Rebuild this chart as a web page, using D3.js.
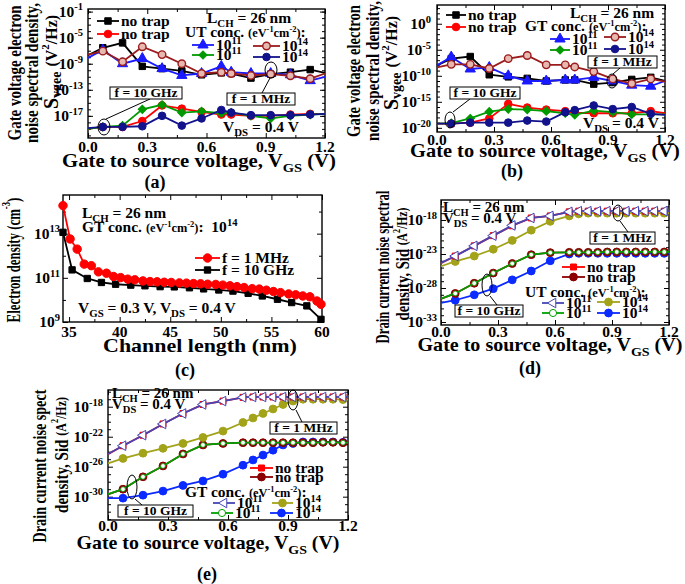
<!DOCTYPE html>
<html>
<head>
<meta charset="utf-8">
<script src="https://cdn.jsdelivr.net/npm/d3@7"></script>
<style>
body { margin: 0; background: #fff; }
svg text { font-family: "Liberation Serif", "Times New Roman", serif; font-weight: bold; fill: #000; white-space: pre; }
</style>
</head>
<body>
<div id="chart"></div>
<script>
// gate voltage sweeps (V)
var vgsTrap = [0, 0.075, 0.175, 0.275, 0.375, 0.475, 0.575, 0.675, 0.725, 0.825, 0.925, 1.025, 1.125, 1.2];
var vgsId = [0, 0.075, 0.175, 0.275, 0.375, 0.475, 0.575, 0.675, 0.725, 0.775, 0.825, 0.875, 0.925, 0.975, 1.025, 1.075, 1.125, 1.175, 1.2];

// (a) Svgee, log10(V^2/Hz), uniform traps
var aNoTrap1M = [-7.7, -6.55, -5.8, -9.4, -9.75, -10.1, -10.7, -10.4, -10.5, -11.2, -10.6, -10.3, -9.9, -10.4];
var aUT11_1M = [-8.1, -6.9, -9.0, -8.2, -9.75, -10.8, -10.5, -9.4, -10.3, -10.5, -10.5, -10.7, -11.6, -11.0];
var aUT14_1M = [-7.6, -7.07, -8.7, -6.4, -7.6, -9.0, -10.5, -10.3, -10.5, -10.8, -10.6, -10.85, -11.3, -10.5];
var aNoTrap10G = [-19.0, -18.7, -18.7, -17.8, -15.4, -15.9, -16.4, -16.8, -16.8, -17.0, -17.0, -16.8, -16.7, -16.7];
var aUT11_10G = [-19.0, -18.7, -18.5, -16.0, -15.3, -16.5, -16.3, -16.6, -16.5, -17.0, -17.4, -17.0, -16.8, -16.7];
var aUT14_10G = [-18.9, -18.7, -18.7, -18.6, -17.0, -18.5, -17.4, -16.1, -16.5, -16.9, -16.9, -16.9, -16.8, -16.7];

// (b) Svgee, log10(V^2/Hz), gaussian traps
var bNoTrap1M = [-8.0, -6.7, -6.3, -9.8, -10.2, -10.5, -11.0, -10.8, -10.8, -11.6, -11.3, -10.7, -10.3, -11.0];
var bGT11_1M = [-8.0, -6.4, -8.7, -8.4, -10.0, -11.0, -11.0, -10.8, -10.8, -10.3, -11.0, -11.8, -12.0, -11.0];
var bGT14_1M = [-8.4, -7.8, -7.8, -8.6, -6.7, -6.1, -7.9, -7.9, -8.3, -9.2, -10.6, -11.5, -10.6, -11.1];
var bNoTrap10G = [-19.2, -19.2, -19.0, -18.2, -15.4, -16.1, -16.5, -16.8, -17.1, -17.2, -17.2, -17.2, -16.8, -17.2];
var bGT11_10G = [-19.2, -19.1, -18.2, -16.9, -16.4, -16.5, -16.8, -17.2, -17.5, -16.7, -17.0, -17.4, -17.4, -17.4];
var bGT14_10G = [-19.2, -19.2, -19.0, -19.0, -19.0, -18.6, -18.8, -17.0, -16.6, -15.7, -16.4, -16.0, -17.3, -17.5];

// (c) electron density, log10(cm^-3) along the channel (nm)
var cLen10G = [34.4, 35.3, 36.8, 38.2, 39.6, 41.1, 42.5, 44.0, 45.4, 46.9, 48.3, 49.8, 51.2, 52.7, 54.1, 55.6, 57.0, 58.5, 59.9];
var cDen10G = [13.06, 11.36, 10.97, 10.79, 10.71, 10.67, 10.64, 10.60, 10.59, 10.55, 10.50, 10.45, 10.40, 10.30, 10.18, 10.03, 9.88, 9.73, 9.12];
var cLen1M = [34.4, 35.1, 35.8, 36.5, 37.2, 37.9, 38.7, 39.4, 40.1, 40.8, 41.5, 42.3, 43.0, 43.7, 44.4, 45.1, 45.9, 46.6, 47.3, 48.0, 48.7, 49.5, 50.2, 50.9, 51.6, 52.3, 53.1, 53.8, 54.5, 55.2, 55.9, 56.7, 57.4, 58.1, 58.8, 59.5, 59.9];
var cDen1M = [14.27, 12.76, 12.3, 11.62, 11.55, 11.27, 11.21, 11.06, 11.01, 10.94, 10.91, 10.86, 10.83, 10.82, 10.8, 10.79, 10.77, 10.76, 10.74, 10.73, 10.71, 10.7, 10.67, 10.64, 10.6, 10.56, 10.51, 10.49, 10.44, 10.38, 10.33, 10.27, 10.23, 10.18, 10.14, 9.95, 9.8];

// (d) Sid, log10(A^2/Hz), uniform traps
var dNoTrap1M = [-24.35, -23.3, -21.8, -20.3, -18.85, -17.7, -17.4, -16.8, -16.7, -16.7, -16.7, -16.7, -16.7, -16.7, -16.7, -16.7, -16.7, -16.7, -16.7];
var dUT11_1M = [-24.3, -23.3, -21.8, -20.3, -18.8, -17.7, -17.4, -16.8, -16.7, -16.7, -16.7, -16.7, -16.7, -16.7, -16.7, -16.7, -16.7, -16.7, -16.7];
var dUT14_1M = [-24.8, -24.1, -23.3, -22.3, -21.0, -19.5, -18.2, -17.4, -17.1, -17.0, -17.0, -17.0, -17.0, -17.0, -17.0, -17.0, -17.0, -17.0, -17.0];
var dNoTrap10G = [-29.6, -28.8, -27.3, -25.8, -24.4, -23.1, -22.8, -22.75, -22.75, -22.75, -22.75, -22.7, -22.7, -22.7, -22.7, -22.7, -22.7, -22.7, -22.7];
var dUT11_10G = [-29.55, -28.8, -27.3, -25.8, -24.4, -23.1, -22.8, -22.75, -22.75, -22.75, -22.75, -22.7, -22.7, -22.7, -22.7, -22.7, -22.7, -22.7, -22.7];
var dUT14_10G = [-30.2, -29.8, -29.0, -28.1, -26.8, -25.5, -24.0, -23.0, -22.9, -22.9, -22.9, -22.9, -22.9, -22.9, -22.9, -22.9, -22.9, -22.9, -22.9];

// (e) Sid, log10(A^2/Hz), gaussian traps
var eNoTrap1M = [-24.35, -23.2, -21.8, -20.3, -18.9, -17.7, -17.25, -16.75, -16.7, -16.7, -16.7, -16.7, -16.7, -16.7, -16.7, -16.7, -16.7, -16.7, -16.7];
var eGT11_1M = [-24.3, -23.2, -21.8, -20.3, -18.9, -17.7, -17.25, -16.75, -16.7, -16.7, -16.7, -16.7, -16.7, -16.7, -16.7, -16.7, -16.7, -16.7, -16.7];
var eGT14_1M = [-25.55, -24.9, -24.2, -23.55, -22.9, -22.1, -21.25, -20.1, -19.5, -18.9, -18.3, -17.7, -17.25, -17.0, -17.0, -17.0, -17.0, -17.05, -17.05];
var eNoTrap10G = [-29.7, -29.0, -27.35, -25.9, -24.3, -23.1, -22.9, -22.8, -22.8, -22.8, -22.8, -22.8, -22.8, -22.8, -22.8, -22.75, -22.75, -22.8, -22.8];
var eGT11_10G = [-29.65, -29.0, -27.35, -25.9, -24.3, -23.1, -22.9, -22.8, -22.8, -22.8, -22.8, -22.8, -22.8, -22.8, -22.8, -22.75, -22.75, -22.8, -22.8];
var eGT14_10G = [-30.2, -30.2, -29.8, -29.25, -28.5, -27.9, -27.0, -25.8, -25.1, -24.45, -23.8, -23.1, -22.9, -22.7, -22.7, -22.7, -22.7, -22.75, -22.75];

var svg = d3.select("#chart").append("svg").attr("width", 685).attr("height", 584);
svg.append("rect").attr("width", 685).attr("height", 584).attr("fill", "#fff");

// text with ^{sup}, _{sub} and [0.8] size switches
function rich(t, str, size) {
  var toks = str.split(/(\^\{[^}]*\}|_\{[^}]*\}|\[[0-9.]+\])/).filter(function(s) { return s.length; });
  var base = size, shift = 0;
  toks.forEach(function(tk) {
    var m = tk.match(/^\[([0-9.]+)\]$/);
    if (m) { base = size * +m[1]; return; }
    var txt = tk, fs = base, off = 0;
    if (tk.indexOf("^{") === 0) { txt = tk.slice(2, -1); fs = base * 0.68; off = -base * 0.4; }
    else if (tk.indexOf("_{") === 0) { txt = tk.slice(2, -1); fs = base * 0.7; off = base * 0.25; }
    var ts = t.append("tspan").attr("font-size", fs).text(txt);
    if (off - shift !== 0) ts.attr("dy", off - shift);
    shift = off;
  });
}

function label(g, x, y, str, size, o) {
  o = o || {};
  var t = g.append("text").attr("x", x).attr("y", y).attr("font-size", size)
    .attr("text-anchor", o.anchor || "start");
  if (o.mid) t.attr("dominant-baseline", "central");
  rich(t, str, size);
  // squeeze long titles horizontally to the width seen in the figure
  var sx = 1;
  if (o.len) sx = o.len / t.node().getComputedTextLength();
  var tf = "translate(" + x + "," + y + ")" + (o.rot ? " rotate(-90)" : "") +
    (sx !== 1 ? " scale(" + sx + ",1)" : "") + " translate(" + (-x) + "," + (-y) + ")";
  if (o.rot || sx !== 1) t.attr("transform", tf);
  return t;
}

var symTypes = { square: d3.symbolSquare, circle: d3.symbolCircle, triangle: d3.symbolTriangle };
function symPath(st) { return d3.symbol(symTypes[st.sym], st.size)(); }
function symTf(st, px, py) { return "translate(" + px + "," + py + ")" + (st.rot ? " rotate(" + st.rot + ")" : ""); }

// series styles
var stBlack = { color: "#000", sym: "square", size: 42, fill: "#000" };
var stRed = { color: "#ff0000", sym: "circle", size: 46, fill: "#ff0000" };
var stBlue = { color: "#1a1aff", sym: "triangle", size: 46, fill: "#1a1aff" };
var stBrown = { color: "#9b1c1c", sym: "circle", size: 44, fill: "#e6b8b0", sw: 1.4 };
var stGreen = { color: "#009900", sym: "square", size: 34, fill: "#009900", rot: 45 };
var stNavy = { color: "#12128c", sym: "circle", size: 46, fill: "#12128c" };
var stRedSq = { color: "#ff0000", sym: "square", size: 36, fill: "#ff0000" };
var stDarkRed = { color: "#8b0000", sym: "circle", size: 48, fill: "#8b0000" };
var stTriL = { color: "#4646b4", sym: "triangle", size: 40, fill: "#fff", rot: -90 };
var stOlive = { color: "#a3a31a", sym: "circle", size: 48, fill: "#a3a31a" };
var stGreenO = { color: "#00a000", sym: "circle", size: 18, fill: "#fff", sw: 0.8 };
var stGreenOL = { color: "#00a000", sym: "circle", size: 40, fill: "#fff" };
var stBlueF = { color: "#0a2aff", sym: "circle", size: 48, fill: "#0a2aff" };
var stRedC = { color: "#ff0000", sym: "circle", size: 56, fill: "#ff0000" };
var stBlackC = { color: "#000", sym: "square", size: 40, fill: "#000" };

function range(a, b, s) { return d3.range(a, b + 1e-9, s); }

function drawPanel(p) {
  var g = svg.append("g");
  var x = d3.scaleLinear().domain(p.xDomain).range([p.left, p.right]);
  var y = d3.scaleLog().domain([Math.pow(10, p.yDomain[0]), Math.pow(10, p.yDomain[1])]).range([p.bottom, p.top]);
  var pw = function(e) { return Math.pow(10, e); };

  function ticks(axisFn, scale, vals, size, tx, ty) {
    g.append("g").attr("transform", "translate(" + tx + "," + ty + ")")
      .call(axisFn(scale).tickValues(vals).tickSizeInner(-size).tickSizeOuter(0).tickFormat(""))
      .call(function(s) { s.select(".domain").remove(); })
      .selectAll("line").attr("stroke", "#000").attr("stroke-width", 1);
  }
  var yMaj = p.yTicks.map(pw), yMin = p.yMinor.map(pw);
  ticks(d3.axisBottom, x, p.xTicks, 5, 0, p.bottom);
  ticks(d3.axisBottom, x, p.xMinor, 3, 0, p.bottom);
  ticks(d3.axisTop, x, p.xTicks, 5, 0, p.top);
  ticks(d3.axisTop, x, p.xMinor, 3, 0, p.top);
  ticks(d3.axisLeft, y, yMaj, 5, p.left, 0);
  ticks(d3.axisLeft, y, yMin, 3, p.left, 0);
  ticks(d3.axisRight, y, yMaj, 5, p.right, 0);
  ticks(d3.axisRight, y, yMin, 3, p.right, 0);

  g.append("rect").attr("x", p.left).attr("y", p.top)
    .attr("width", p.right - p.left).attr("height", p.bottom - p.top)
    .attr("fill", "none").attr("stroke", "#000").attr("stroke-width", 1.4);

  g.selectAll(null).data(p.xTicks).join("text")
    .attr("x", function(d) { return x(d); }).attr("y", p.xLabY)
    .attr("text-anchor", "middle").attr("font-size", 15.5)
    .text(function(d) { return d3.format(p.xFmt)(d); });
  p.yTicks.forEach(function(e) {
    label(g, p.left - p.yLabDx, y(pw(e)) + 5, "10^{" + e + "}", 15.5, { anchor: "end" });
  });

  var line = d3.line().x(function(d) { return x(d[0]); }).y(function(d) { return y(pw(d[1])); });
  p.series.forEach(function(s) {
    var pts = s.xs.map(function(v, i) { return [v, s.ys[i]]; });
    g.append("path").datum(pts).attr("d", line).attr("fill", "none")
      .attr("stroke", s.st.color).attr("stroke-width", 1.8);
    var mk = p.skipEnds ? pts.slice(1, -1) : pts;
    g.selectAll(null).data(mk).join("path")
      .attr("d", symPath(s.st))
      .attr("transform", function(d) { return symTf(s.st, x(d[0]), y(pw(d[1]))); })
      .attr("fill", s.st.fill).attr("stroke", s.st.color).attr("stroke-width", s.st.sw || 1);
  });

  p.legend.forEach(function(l) {
    g.append("line").attr("x1", l.x1).attr("x2", l.x2).attr("y1", l.y).attr("y2", l.y)
      .attr("stroke", l.st.color).attr("stroke-width", 1.8);
    g.append("path").attr("d", symPath(l.st)).attr("transform", symTf(l.st, (l.x1 + l.x2) / 2, l.y))
      .attr("fill", l.st.fill).attr("stroke", l.st.color).attr("stroke-width", l.st.sw || 1);
    label(g, l.x2 + 2, l.y + 5, l.text, 15.5);
  });

  (p.notes || []).forEach(function(n) { label(g, n[0], n[1], n[2], n[3] || 15.5); });

  (p.boxes || []).forEach(function(b) {
    g.append("line").attr("x1", b.lx1).attr("y1", b.ly1).attr("x2", b.lx2).attr("y2", b.ly2)
      .attr("stroke", "#000").attr("stroke-width", 1);
    g.append("ellipse").attr("cx", b.ex).attr("cy", b.ey).attr("rx", b.rx).attr("ry", b.ry)
      .attr("fill", "none").attr("stroke", "#000").attr("stroke-width", 1);
    g.append("rect").attr("x", b.x).attr("y", b.y).attr("width", b.w).attr("height", b.h)
      .attr("fill", "#fff").attr("stroke", "#000").attr("stroke-width", 1);
    label(g, b.x + b.w / 2, b.y + b.h - 2.5, b.text, 13.5, { anchor: "middle" });
  });

  p.ytitle.forEach(function(t) {
    label(g, t[0], t[1], t[2], t[3], { rot: true, mid: true, anchor: "middle", len: t[4] });
  });
  label(g, p.xtitle[0], p.xtitle[1], p.xtitle[2], 19, { anchor: "middle", len: p.xtitle[3] });
  label(g, p.tag[0], p.tag[1], p.tag[2], 18, { anchor: "middle" });
}

var decadesAB = range(-20, 3, 1);
var concUT = "UT conc. [0.8](eV^{-1}cm^{-2})[1]:";
var concGT = "GT conc. [0.8](eV^{-1}cm^{-2})[1]:";

drawPanel({
  left: 88, right: 325, top: 9, bottom: 138, xDomain: [0, 1.2], yDomain: [-20.4, -0.6],
  xTicks: [0, 0.3, 0.6, 0.9, 1.2], xMinor: [0.15, 0.45, 0.75, 1.05], xFmt: ".1f", xLabY: 152,
  yTicks: [-1, -5, -9, -13, -17], yMinor: decadesAB.filter(function(e) { return e > -20.4 && e < -0.6; }), yLabDx: 5,
  skipEnds: true,
  series: [
    { xs: vgsTrap, ys: aNoTrap10G, st: stRed }, { xs: vgsTrap, ys: aUT11_10G, st: stGreen },
    { xs: vgsTrap, ys: aUT14_10G, st: stNavy }, { xs: vgsTrap, ys: aNoTrap1M, st: stBlack },
    { xs: vgsTrap, ys: aUT11_1M, st: stBlue }, { xs: vgsTrap, ys: aUT14_1M, st: stBrown }
  ],
  legend: [
    { st: stBlack, x1: 97, x2: 119, y: 21, text: "no trap" }, { st: stRed, x1: 97, x2: 119, y: 34, text: "no trap" },
    { st: stBlue, x1: 192, x2: 214, y: 45, text: "10^{11}" }, { st: stBrown, x1: 253, x2: 280, y: 46, text: "10^{14}" },
    { st: stGreen, x1: 192, x2: 214, y: 55, text: "10^{11}" }, { st: stNavy, x1: 253, x2: 280, y: 57, text: "10^{14}" }
  ],
  notes: [[207, 23, "L_{CH} = 26 nm"], [185, 37, concUT], [223, 132, "V_{DS} = 0.4 V"]],
  boxes: [
    { x: 110, y: 87, w: 72, h: 12, text: "f = 10 GHz", ex: 104, ey: 127, rx: 6, ry: 8, lx1: 106, ly1: 119, lx2: 150, ly2: 99 },
    { x: 227, y: 93, w: 68, h: 12, text: "f = 1 MHz", ex: 271, ey: 70, rx: 6, ry: 8, lx1: 270, ly1: 78, lx2: 262, ly2: 93 }
  ],
  ytitle: [[14, 73, "Gate voltage electron", 18, 135], [31, 73, "noise spectral density,", 18, 140], [51, 62, "S_{vgee} [0.8](V^{2}/Hz)", 20]],
  xtitle: [199, 167, "Gate to source voltage, V_{GS} (V)", 274], tag: [155, 188, "(a)"]
});

drawPanel({
  left: 437, right: 665, top: 5, bottom: 132, xDomain: [0, 1.2], yDomain: [-20.8, 3.6],
  xTicks: [0, 0.3, 0.6, 0.9, 1.2], xMinor: [0.15, 0.45, 0.75, 1.05], xFmt: ".1f", xLabY: 145,
  yTicks: [0, -5, -10, -15, -20], yMinor: decadesAB.filter(function(e) { return e % 5 !== 0; }), yLabDx: 6,
  skipEnds: true,
  series: [
    { xs: vgsTrap, ys: bNoTrap10G, st: stRed }, { xs: vgsTrap, ys: bGT11_10G, st: stGreen },
    { xs: vgsTrap, ys: bGT14_10G, st: stNavy }, { xs: vgsTrap, ys: bNoTrap1M, st: stBlack },
    { xs: vgsTrap, ys: bGT11_1M, st: stBlue }, { xs: vgsTrap, ys: bGT14_1M, st: stBrown }
  ],
  legend: [
    { st: stBlack, x1: 446, x2: 466, y: 15, text: "no trap" }, { st: stRed, x1: 446, x2: 466, y: 27, text: "no trap" },
    { st: stBlue, x1: 550, x2: 570, y: 39, text: "10^{11}" }, { st: stBrown, x1: 604, x2: 626, y: 37, text: "10^{14}" },
    { st: stGreen, x1: 550, x2: 570, y: 50, text: "10^{11}" }, { st: stNavy, x1: 604, x2: 626, y: 49, text: "10^{14}" }
  ],
  notes: [[570, 18, "L_{CH} = 26 nm"], [525, 31, concGT], [583, 128, "V_{DS} = 0.4 V"]],
  boxes: [
    { x: 450, y: 87, w: 70, h: 12, text: "f = 10 GHz", ex: 450, ey: 120, rx: 5, ry: 8, lx1: 453, ly1: 112, lx2: 470, ly2: 99 },
    { x: 588, y: 56, w: 69, h: 12, text: "f = 1 MHz", ex: 612, ey: 81, rx: 5, ry: 7, lx1: 613, ly1: 74, lx2: 620, ly2: 68 }
  ],
  ytitle: [[353, 71, "Gate voltage electron", 18, 132], [372, 71, "noise spectral density,", 18, 140], [391, 63, "S_{vgee} [0.8](V^{2}/Hz)", 20]],
  xtitle: [545, 157, "Gate to source voltage, V_{GS} (V)", 270], tag: [512, 177, "(b)"]
});

drawPanel({
  left: 63, right: 322, top: 195, bottom: 322, xDomain: [34.4, 60], yDomain: [9, 14.75],
  xTicks: [35, 40, 45, 50, 55, 60], xMinor: [37.5, 42.5, 47.5, 52.5, 57.5], xFmt: "d", xLabY: 337,
  yTicks: [9, 11, 13], yMinor: [10, 12, 14], yLabDx: 3,
  skipEnds: false,
  series: [{ xs: cLen10G, ys: cDen10G, st: stBlackC }, { xs: cLen1M, ys: cDen1M, st: stRedC }],
  legend: [
    { st: stRedC, x1: 195, x2: 220, y: 258, text: "f = 1 MHz" },
    { st: stBlackC, x1: 195, x2: 220, y: 270, text: "f = 10 GHz" }
  ],
  notes: [[82, 218, "L_{CH} = 26 nm"], [82, 232, "GT conc. [0.8](eV^{-1}cm^{-2})[1]:  10^{14}"], [78, 313, "V_{GS} = 0.3 V, V_{DS} = 0.4 V"]],
  ytitle: [[13, 260, "Electron density (cm^{-3})", 18, 125]],
  xtitle: [200, 352, "Channel length (nm)", 194], tag: [185, 376, "(c)"]
});

drawPanel({
  left: 441, right: 669, top: 200, bottom: 325, xDomain: [0, 1.2], yDomain: [-33.44, -15.06],
  xTicks: [0, 0.3, 0.6, 0.9, 1.2], xMinor: [0.15, 0.45, 0.75, 1.05], xFmt: ".1f", xLabY: 337,
  yTicks: [-18, -23, -28, -33], yMinor: range(-33, -16, 1).filter(function(e) { return (e + 33) % 5 !== 0; }), yLabDx: 4,
  skipEnds: true,
  series: [
    { xs: vgsId, ys: dUT14_10G, st: stBlueF }, { xs: vgsId, ys: dNoTrap10G, st: stDarkRed },
    { xs: vgsId, ys: dUT11_10G, st: stGreenO }, { xs: vgsId, ys: dUT14_1M, st: stOlive },
    { xs: vgsId, ys: dNoTrap1M, st: stRedSq }, { xs: vgsId, ys: dUT11_1M, st: stTriL }
  ],
  legend: [
    { st: stRedSq, x1: 562, x2: 585, y: 267, text: "no trap" }, { st: stDarkRed, x1: 562, x2: 585, y: 277, text: "no trap" },
    { st: stTriL, x1: 542, x2: 564, y: 303, text: "10^{11}" }, { st: stOlive, x1: 597, x2: 620, y: 302, text: "10^{14}" },
    { st: stGreenOL, x1: 542, x2: 564, y: 313, text: "10^{11}" }, { st: stBlueF, x1: 597, x2: 620, y: 313, text: "10^{14}" }
  ],
  notes: [[443, 212, "L_{CH} = 26 nm", 15], [443, 223, "V_{DS} = 0.4 V", 15], [525, 297, concUT]],
  boxes: [
    { x: 590, y: 232, w: 65, h: 12, text: "f = 1 MHz", ex: 618, ey: 213, rx: 5, ry: 8, lx1: 620, ly1: 221, lx2: 628, ly2: 232 },
    { x: 455, y: 305, w: 68, h: 12, text: "f = 10 GHz", ex: 487, ey: 285, rx: 5, ry: 11, lx1: 490, ly1: 296, lx2: 497, ly2: 305 }
  ],
  ytitle: [[382, 267, "Drain current noise spectral", 18, 153], [402, 264, "density, Sid [0.8](A^{2}/Hz)", 18, 113]],
  xtitle: [550, 351, "Gate to source voltage, V_{GS} (V)", 265], tag: [530, 374, "(d)"]
});

drawPanel({
  left: 108, right: 348, top: 390, bottom: 520, xDomain: [0, 1.2], yDomain: [-33.11, -15.77],
  xTicks: [0, 0.3, 0.6, 0.9, 1.2], xMinor: [0.15, 0.45, 0.75, 1.05], xFmt: ".1f", xLabY: 531,
  yTicks: [-18, -22, -26, -30], yMinor: range(-33, -16, 1).filter(function(e) { return e % 4 !== 2 && e % 4 !== -2; }), yLabDx: 5,
  skipEnds: true,
  series: [
    { xs: vgsId, ys: eGT14_10G, st: stBlueF }, { xs: vgsId, ys: eNoTrap10G, st: stDarkRed },
    { xs: vgsId, ys: eGT11_10G, st: stGreenO }, { xs: vgsId, ys: eGT14_1M, st: stOlive },
    { xs: vgsId, ys: eNoTrap1M, st: stRedSq }, { xs: vgsId, ys: eGT11_1M, st: stTriL }
  ],
  legend: [
    { st: stRedSq, x1: 250, x2: 273, y: 468, text: "no trap" }, { st: stDarkRed, x1: 250, x2: 273, y: 477, text: "no trap" },
    { st: stTriL, x1: 213, x2: 235, y: 503, text: "10^{11}" }, { st: stOlive, x1: 272, x2: 293, y: 503, text: "10^{14}" },
    { st: stGreenOL, x1: 211, x2: 233, y: 513, text: "10^{11}" }, { st: stBlueF, x1: 270, x2: 293, y: 513, text: "10^{14}" }
  ],
  notes: [[112, 398, "L_{CH} = 26 nm", 15], [112, 409, "V_{DS} = 0.4 V", 15], [185, 497, concGT]],
  boxes: [
    { x: 270, y: 422, w: 67, h: 12, text: "f = 1 MHz", ex: 293, ey: 400, rx: 5, ry: 10, lx1: 296, ly1: 410, lx2: 302, ly2: 422 },
    { x: 118, y: 505, w: 75, h: 12, text: "f = 10 GHz", ex: 132, ey: 487, rx: 5, ry: 12, lx1: 135, ly1: 499, lx2: 142, ly2: 505 }
  ],
  ytitle: [[40, 466, "Drain current noise spect", 18, 153], [61, 455, "density, Sid [0.8](A^{2}/Hz)", 18, 116]],
  xtitle: [208, 549, "Gate to source voltage, V_{GS} (V)", 263], tag: [207, 580, "(e)"]
});
</script>
</body>
</html>
